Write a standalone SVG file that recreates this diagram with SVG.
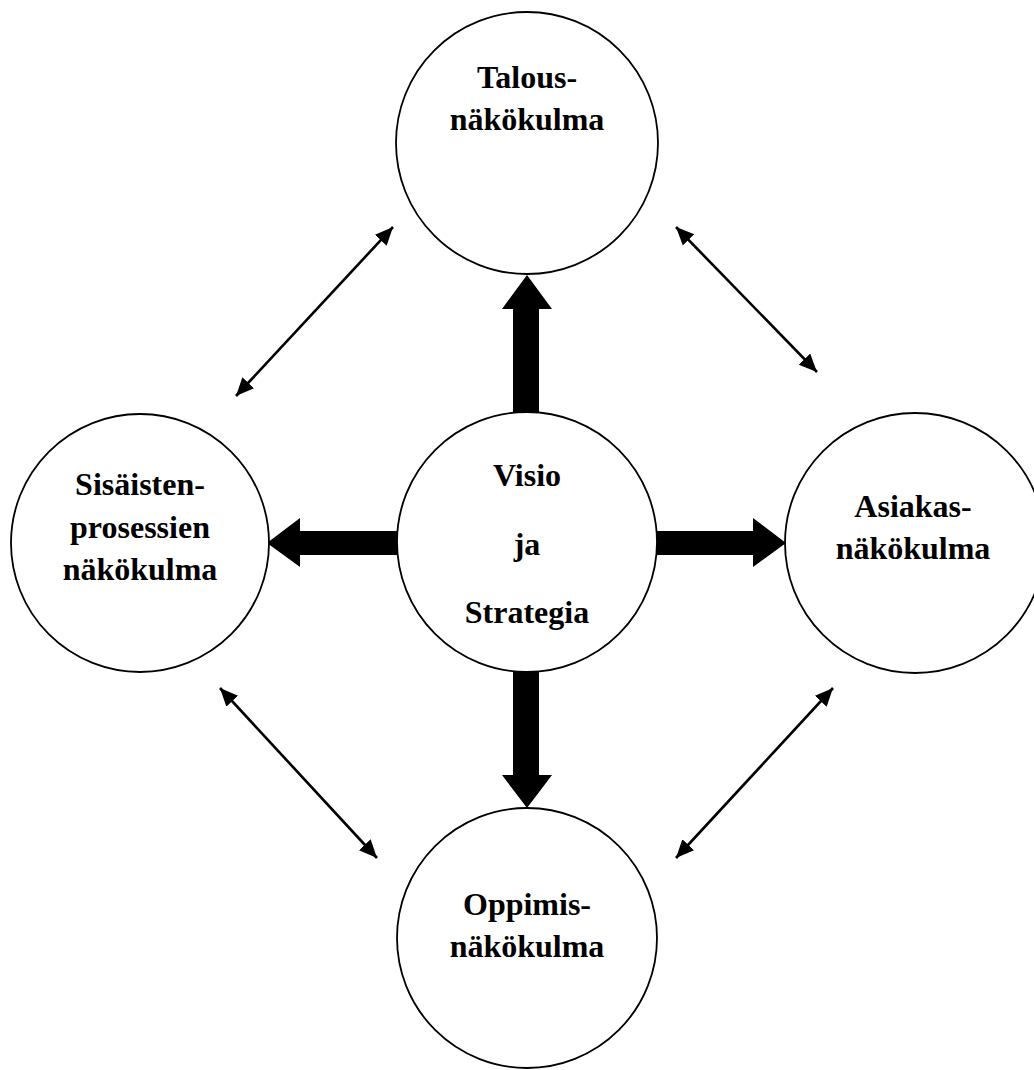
<svg xmlns="http://www.w3.org/2000/svg" width="1034" height="1070" viewBox="0 0 1034 1070">
<style>
.node circle{fill:#fff;stroke:#000;stroke-width:1.8}
.node text{font-family:"Liberation Serif","Times New Roman",serif;font-weight:bold;font-size:32px;text-anchor:middle;fill:#000}
.thin{stroke:#000;stroke-width:2.6;fill:none;marker-start:url(#ah);marker-end:url(#ah)}
.thick{fill:#000;stroke:none}
</style>
<defs>
<marker id="ah" markerUnits="userSpaceOnUse" markerWidth="20" markerHeight="18" refX="18" refY="8" orient="auto-start-reverse">
<path d="M0,0 L18,8 L0,16 z" fill="#000"/>
</marker>
</defs>
<rect width="1034" height="1070" fill="#fff"/>
<g id="connectors">
<polygon class="thick" points="513,412 513,309 502,309 527,275 552,309 539,309 539,412"/>
<polygon class="thick" points="513,672 513,775 502,775 527,808 552,775 539,775 539,672"/>
<polygon class="thick" points="400,531 300,531 300,518 267,543 300,567 300,555 400,555"/>
<polygon class="thick" points="654,531 753,531 753,518 786,543 753,567 753,555 654,555"/>
<line class="thin" x1="236" y1="396" x2="393" y2="227"/>
<line class="thin" x1="676" y1="227" x2="817" y2="372"/>
<line class="thin" x1="220" y1="688" x2="377" y2="858"/>
<line class="thin" x1="833" y1="688" x2="676" y2="858"/>
</g>
<g id="talous" class="node">
<circle cx="527" cy="143" r="131"/>
<text x="527" y="88">Talous-</text>
<text x="527" y="130">näkökulma</text>
</g>
<g id="visio" class="node">
<circle cx="527" cy="542" r="130"/>
<text x="527" y="486">Visio</text>
<text x="527" y="555">ja</text>
<text x="527" y="623">Strategia</text>
</g>
<g id="sisaiset" class="node">
<circle cx="140" cy="543" r="129"/>
<text x="140" y="495">Sisäisten-</text>
<text x="140" y="538">prosessien</text>
<text x="140" y="580">näkökulma</text>
</g>
<g id="asiakas" class="node">
<circle cx="915" cy="543" r="130"/>
<text x="913" y="517">Asiakas-</text>
<text x="913" y="559">näkökulma</text>
</g>
<g id="oppimis" class="node">
<circle cx="527" cy="938" r="130"/>
<text x="527" y="915">Oppimis-</text>
<text x="527" y="957">näkökulma</text>
</g>
</svg>
